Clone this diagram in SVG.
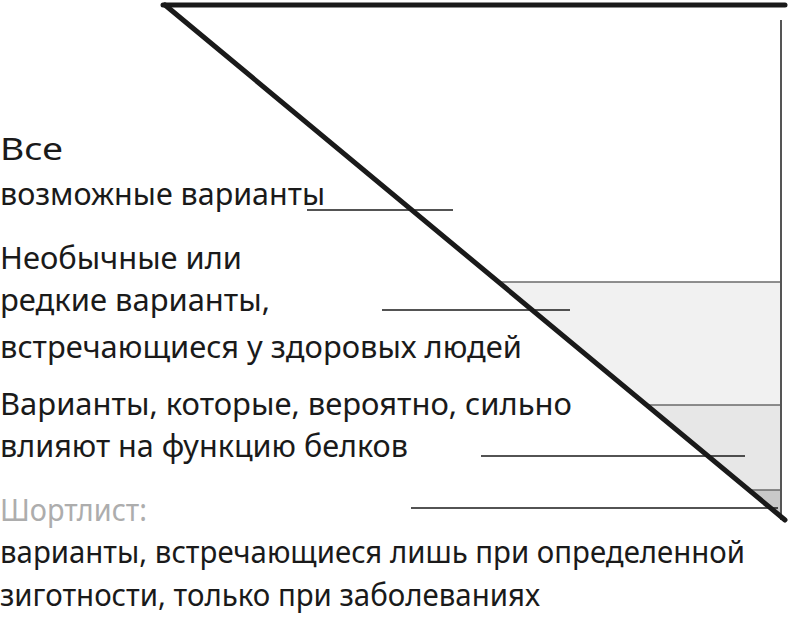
<svg xmlns="http://www.w3.org/2000/svg" width="790" height="617" viewBox="0 0 790 617">
<style>
text{font-family:"Noto Sans","Open Sans","Liberation Sans",sans-serif;font-size:31px;fill:#1a1a1a}
.muted{fill:#adadad}
.lead{stroke:#1a1a1a;stroke-width:1.6;fill:none}
.band{stroke:#6a6a6a;stroke-width:1.6}
</style>
<rect width="790" height="617" fill="#fff"/>
<g id="funnel">
<polygon points="498,282 781,282 781,405 645,405" fill="#f1f1f1"/>
<polygon points="645,405 781,405 781,490 748,490" fill="#e7e7e7"/>
<polygon points="748,490 781,490 781,520 784,520" fill="#c9c9c9"/>
<line class="band" x1="498" y1="282" x2="781" y2="282"/>
<line class="band" x1="645" y1="405" x2="781" y2="405"/>
<line class="band" x1="748" y1="490" x2="781" y2="490"/>
<line x1="781" y1="20" x2="781" y2="520" stroke="#555" stroke-width="2"/>
<line x1="163" y1="5" x2="785" y2="5" stroke="#1a1a1a" stroke-width="5" stroke-linecap="round"/>
<line x1="165" y1="5" x2="785" y2="520" stroke="#1a1a1a" stroke-width="5" stroke-linecap="round"/>
</g>
<g id="connectors">
<line class="lead" x1="307" y1="210" x2="453" y2="210"/>
<line class="lead" x1="382" y1="310" x2="570" y2="310"/>
<line class="lead" x1="481" y1="456" x2="745" y2="456"/>
<line class="lead" x1="411" y1="508" x2="778" y2="508"/>
</g>
<g id="label-all">
<text x="0" y="160" textLength="63" lengthAdjust="spacingAndGlyphs">Все</text>
<text x="0" y="205" textLength="325" lengthAdjust="spacingAndGlyphs">возможные варианты</text>
</g>
<g id="label-rare">
<text x="0" y="269" textLength="242" lengthAdjust="spacingAndGlyphs">Необычные или</text>
<text x="0" y="311" textLength="270" lengthAdjust="spacingAndGlyphs">редкие варианты,</text>
<text x="0" y="358" textLength="522" lengthAdjust="spacingAndGlyphs">встречающиеся у здоровых людей</text>
</g>
<g id="label-protein">
<text x="0" y="415" textLength="572" lengthAdjust="spacingAndGlyphs">Варианты, которые, вероятно,  сильно</text>
<text x="0" y="457" textLength="408" lengthAdjust="spacingAndGlyphs">влияют на функцию белков</text>
</g>
<g id="label-shortlist">
<text class="muted" x="0" y="521" textLength="147" lengthAdjust="spacingAndGlyphs">Шортлист:</text>
<text x="0" y="563" textLength="745" lengthAdjust="spacingAndGlyphs">варианты, встречающиеся лишь при определенной</text>
<text x="0" y="606" textLength="540" lengthAdjust="spacingAndGlyphs">зиготности, только при заболеваниях</text>
</g>
</svg>
